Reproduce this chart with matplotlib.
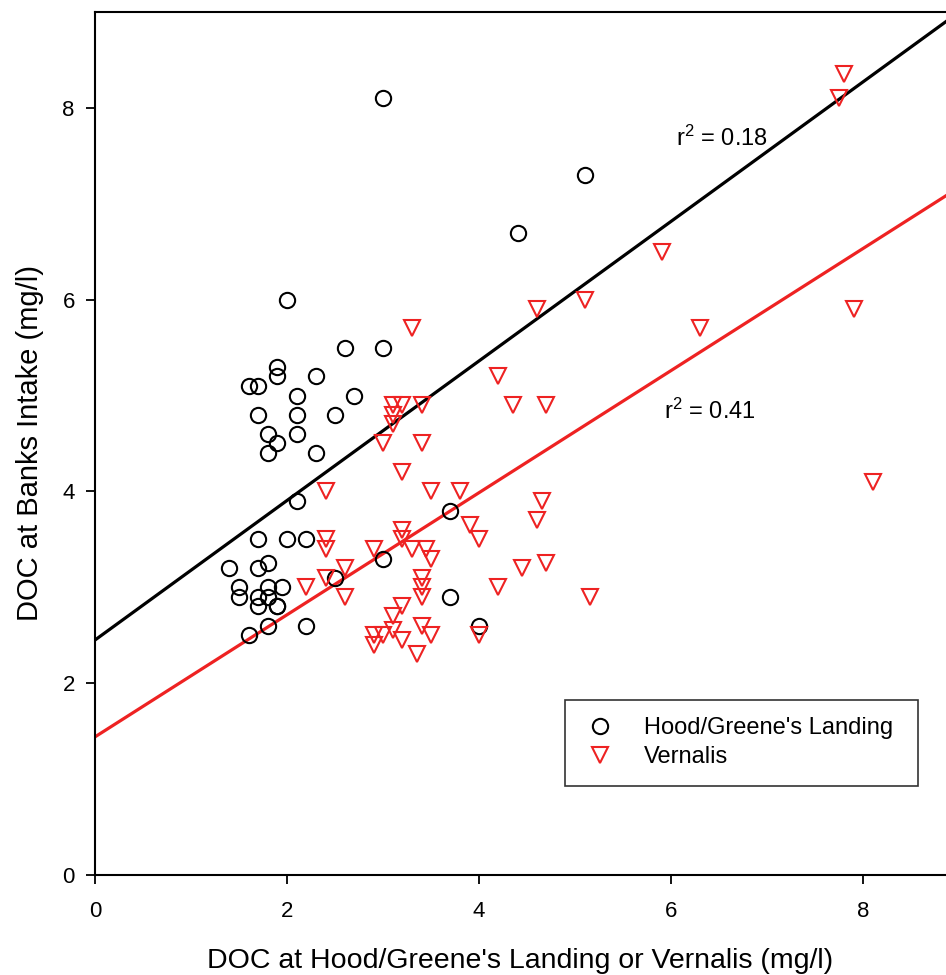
import matplotlib
matplotlib.use("Agg")
import matplotlib.pyplot as plt

plt.rcParams['font.family'] = ['Liberation Sans', 'DejaVu Sans']
plt.rcParams['mathtext.fontset'] = 'custom'
plt.rcParams['mathtext.rm'] = 'Liberation Sans'
plt.rcParams['mathtext.it'] = 'Liberation Sans:italic'

# Hood/Greene's Landing (x) vs Banks Intake (y)
hood_x = [3.0, 5.1, 4.4, 2.0, 2.6, 3.0, 1.9, 1.9, 1.6, 1.7, 2.3, 2.1, 2.7,
          1.7, 2.1, 2.5, 2.1, 1.8, 1.9, 1.8, 2.3, 2.1, 3.7, 1.7, 2.0, 2.2,
          1.4, 1.7, 1.8, 1.5, 1.8, 1.95, 2.5, 3.0, 1.5, 1.7, 1.8, 1.7, 1.9,
          1.9, 3.7, 1.8, 2.2, 4.0, 1.6]
hood_y = [8.1, 7.3, 6.7, 6.0, 5.5, 5.5, 5.3, 5.2, 5.1, 5.1, 5.2, 5.0, 5.0,
          4.8, 4.8, 4.8, 4.6, 4.6, 4.5, 4.4, 4.4, 3.9, 3.8, 3.5, 3.5, 3.5,
          3.2, 3.2, 3.25, 3.0, 3.0, 3.0, 3.1, 3.3, 2.9, 2.9, 2.9, 2.8, 2.8,
          2.8, 2.9, 2.6, 2.6, 2.6, 2.5]

# Vernalis (x) vs Banks Intake (y)
vern_x = [7.8, 7.75, 5.9, 5.1, 4.6, 7.9, 3.3, 6.3, 4.2, 3.1, 3.2, 3.4, 4.35,
          4.7, 3.1, 3.1, 3.0, 3.4, 3.2, 2.4, 3.5, 3.8, 8.1, 4.65, 4.6, 3.9,
          3.2, 4.0, 2.4, 2.4, 3.2, 3.3, 3.45, 3.5, 2.9, 2.6, 4.7, 4.45, 2.4,
          3.4, 2.2, 3.4, 4.2, 3.4, 2.6, 5.15, 3.2, 3.1, 3.4, 3.1, 3.0, 2.9,
          3.2, 3.5, 2.9, 4.0, 3.35]
vern_y = [8.35, 8.1, 6.5, 6.0, 5.9, 5.9, 5.7, 5.7, 5.2, 4.9, 4.9, 4.9, 4.9,
          4.9, 4.8, 4.7, 4.5, 4.5, 4.2, 4.0, 4.0, 4.0, 4.1, 3.9, 3.7, 3.65,
          3.6, 3.5, 3.5, 3.4, 3.5, 3.4, 3.4, 3.3, 3.4, 3.2, 3.25, 3.2, 3.1,
          3.1, 3.0, 3.0, 3.0, 2.9, 2.9, 2.9, 2.8, 2.7, 2.6, 2.55, 2.5, 2.5,
          2.45, 2.5, 2.4, 2.5, 2.3]

# regression lines (intercept, slope) and r^2
hood_fit = (2.45, 0.728)
vern_fit = (1.44, 0.637)
hood_r2 = "0.18"
vern_r2 = "0.41"

red = '#ee2222'

fig = plt.figure(figsize=(9.46, 9.75), dpi=100)
ax = fig.add_axes([0.1004, 0.1026, 0.8996, 0.8851])

ax.plot(hood_x, hood_y, 'o', mfc='none', mec='black', ms=11, mew=1.5,
        label="Hood/Greene's Landing", zorder=3)
ax.plot(vern_x, vern_y, 'v', mfc='none', mec=red, ms=11, mew=1.5,
        label="Vernalis", zorder=3)
ax.axline((0, hood_fit[0]), slope=hood_fit[1], color='black', lw=2.3, zorder=2)
ax.axline((0, vern_fit[0]), slope=vern_fit[1], color=red, lw=2.3, zorder=2)

ax.text(6.05, 7.68, "r$^{2}$ = " + hood_r2, fontsize=17, va='center', ha='left')
ax.text(5.92, 4.84, "r$^{2}$ = " + vern_r2, fontsize=17, va='center', ha='left')

ax.set_xlim(0, 8.86)
ax.set_ylim(0, 9.0)
ax.set_xticks([0, 2, 4, 6, 8])
ax.set_yticks([0, 2, 4, 6, 8])
ax.spines['right'].set_visible(False)
for s in ['left', 'bottom', 'top']:
    ax.spines[s].set_linewidth(1.5)
ax.tick_params(axis='both', direction='out', length=6.5, width=1.3, labelsize=16)
ax.tick_params(axis='x', pad=12)
ax.tick_params(axis='y', pad=8)

ax.set_xlabel("DOC at Hood/Greene's Landing or Vernalis (mg/l)", fontsize=20.5, labelpad=19)
ax.set_ylabel("DOC at Banks Intake (mg/l)", fontsize=21, labelpad=13)

leg = ax.legend(loc='lower left', bbox_to_anchor=(0.552, 0.103, 0.415, 0.1),
                mode='expand', borderaxespad=0, fontsize=17, fancybox=False,
                edgecolor='#333333', framealpha=1, handletextpad=1.1,
                borderpad=0.75, labelspacing=0.3, handlelength=1.5)
leg.get_frame().set_linewidth(1.2)

fig.savefig("out.png", dpi=100)
